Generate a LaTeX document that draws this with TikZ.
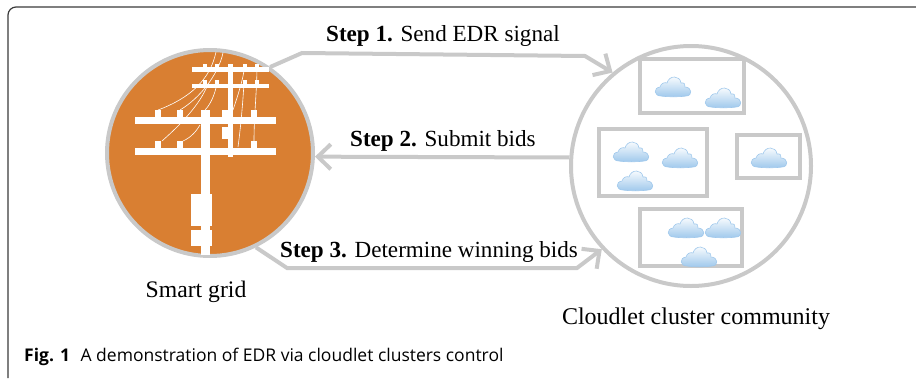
\documentclass[tikz,border=0pt]{standalone}
\usepackage{xcolor}
\usepackage{fontspec}
\setmainfont{Liberation Serif}
\newfontfamily\captionfont{Open Sans}
\usetikzlibrary{arrows.meta}
\definecolor{linegray}{HTML}{C9C9C9}
\definecolor{gridorange}{HTML}{D97F32}
\definecolor{framegray}{HTML}{3A3A3A}
\definecolor{cloudblue}{HTML}{9FC8EC}
\tikzset{
    flow/.style={linegray, line width=4, -{Straight Barb[length=13, width=25]}},
    cluster/.style={linegray, line width=3.8},
    label/.style={inner sep=0, font=\fontsize{23.1}{26}\selectfont},
    wire/.style={white, line width=0.6},
    pics/cloudlet/.style={code={
        \draw[cloudblue, line width=0.6, top color=white, bottom color=cloudblue]
            (-12,10) .. controls (-19,10) and (-20,2) .. (-13,1)
            .. controls (-12,-3) and (-8,-4) .. (-6,-3)
            .. controls (-4,-11) and (7,-11) .. (8,-3)
            .. controls (11,-4) and (13,-1) .. (12,1)
            .. controls (19,1) and (20,10) .. (13,10)
            .. controls (8,11) and (-7,11) .. (-12,10) -- cycle;
    }}
}
\begin{document}
\begin{tikzpicture}[x=1pt, y=-1pt]
    \useasboundingbox (0,0) rectangle (916,378);
    \draw[framegray, line width=1.2, rounded corners=8] (8,378) -- (8,7) -- (916,7);

    \node[circle, fill=gridorange, draw=linegray, line width=4, minimum size=206, inner sep=0] (grid) at (210,153) {};
    \node[circle, draw=linegray, line width=4, minimum size=240, inner sep=0] (community) at (691,166) {};

    % pole
    \fill[white] (135,117) rectangle (276,124);
    \fill[white] (135,148) rectangle (276,155);
    \fill[white] (201,110) rectangle (210,255);
    \fill[white] (191,194) rectangle (212,226);
    \fill[white] (191,230) rectangle (212,246);
    \fill[white] (228,64) rectangle (233,157);
    \fill[white] (222,110) rectangle (233,117);
    \fill[white] (222,127) rectangle (233,139);
    \fill[white] (192,67) rectangle (269,72);
    \fill[white] (192,84) rectangle (269,88);
    \foreach \x in {155,177,251} {
        \fill[white] (\x,110) rectangle +(6,7);
    }
    \foreach \x in {155,177,251} {
        \fill[white] (\x,141) rectangle +(6,7);
    }
    \foreach \x in {203,215,243,255} {
        \fill[white] (\x,64) rectangle +(4,3);
        \fill[white] (\x,80) rectangle +(4,4);
    }

    % wires
    \draw[wire] (158,110) .. controls (190,98) and (210,80) .. (216,52);
    \draw[wire] (180,110) .. controls (200,98) and (218,75) .. (223,53);
    \draw[wire] (162,141) .. controls (180,125) and (200,105) .. (208,84);
    \draw[wire] (183,141) .. controls (192,137) and (197,130) .. (200,125);
    \draw[wire] (205,110) .. controls (210,105) and (215,95) .. (217,83);
    \draw[wire] (233,110) .. controls (238,95) and (243,80) .. (245,65);
    \draw[wire] (238,147) .. controls (241,125) and (243,100) .. (244,83);
    \draw[wire] (254,141) .. controls (254,115) and (257,90) .. (257,65);

    % clusters
    \draw[cluster] (640,59) rectangle (744,113);
    \draw[cluster] (599,129) rectangle (707,196);
    \draw[cluster] (737,135) rectangle (800,178);
    \draw[cluster] (640,209) rectangle (742,266);

    % clouds
    \foreach \x/\y in {673/86, 723/97, 631/151, 680/157, 635/180, 769/157, 686/227, 723/227, 699/256} {
        \pic at (\x,\y) {cloudlet};
    }

    % steps
    \coordinate (a1) at (302,53);
    \coordinate (a2) at (585,56);
    \coordinate (b1) at (287,268);
    \coordinate (b2) at (577,268);
    \draw[flow] (grid.55) -- (a1) -- (a2) -- (community.130);
    \draw[flow] (community.176) -- (grid.-2);
    \draw[flow] (grid.-64) -- (b1) -- (b2) -- (community.223);

    \node[label, anchor=base west] (step1) at (326,41) {\textbf{Step 1.} Send EDR signal};
    \node[label, anchor=base west] (step2) at (350,146) {\textbf{Step 2.} Submit bids};
    \node[label, anchor=base west] (step3) at (280,257) {\textbf{Step 3.} Determine winning bids};
    \node[label, anchor=base, font=\fontsize{23.7}{26}\selectfont] (gridlabel) at (196,297) {Smart grid};
    \node[label, anchor=base, font=\fontsize{24}{26}\selectfont] (communitylabel) at (696,324) {Cloudlet cluster community};
    \node[inner sep=0, anchor=base west, font=\captionfont\fontsize{17.5}{20}\selectfont] (caption) at (24,361) {\textbf{Fig. 1}\hspace{6pt} A demonstration of EDR via cloudlet clusters control};
\end{tikzpicture}
\end{document}
